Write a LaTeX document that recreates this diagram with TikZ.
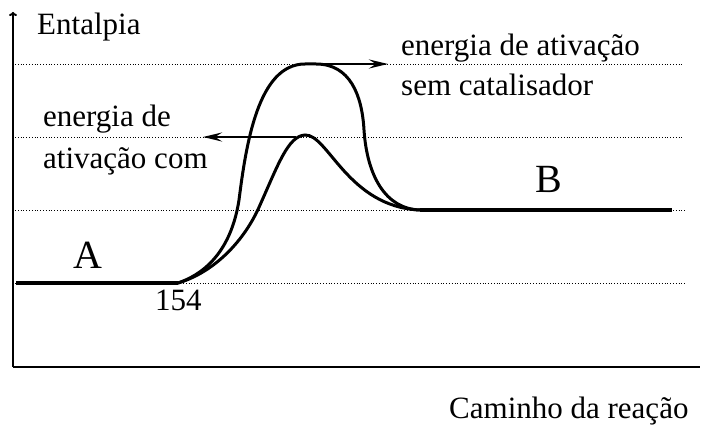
\documentclass[tikz,border=0pt]{standalone}
\usepackage{fontspec}
\setmainfont{Liberation Serif}
\usetikzlibrary{arrows.meta}
\begin{document}
\begin{tikzpicture}[x=1pt,y=-1pt,
  lbl/.style={anchor=base west,inner sep=0pt,font=\fontsize{31}{34}\selectfont},
  big/.style={anchor=base west,inner sep=0pt,font=\fontsize{40}{44}\selectfont},
  guide/.style={dotted,line width=0.8pt},
  curve/.style={line width=3pt},
  level/.style={line width=3.5pt},
  axis/.style={line width=2pt},
  ptr/.style={line width=2.8pt,-{Stealth[length=19pt,width=9pt,inset=7pt]}}]
\useasboundingbox (0,0) rectangle (704,425);
% axes
\coordinate (O) at (13,367);
\coordinate (Ytop) at (13,12);
\coordinate (Xend) at (700,367);
\draw[axis,-{To[length=4pt,width=8pt]}] (O) -- (Ytop);
\draw[axis] (O) -- (Xend);
% guide lines
\coordinate (g1a) at (15,64);  \coordinate (g1b) at (684,64);
\coordinate (g2a) at (15,137); \coordinate (g2b) at (684,137);
\coordinate (g3a) at (15,210); \coordinate (g3b) at (686,210);
\coordinate (g4a) at (15,283); \coordinate (g4b) at (686,283);
\draw[guide] (g1a) -- (g1b);
\draw[guide] (g2a) -- (g2b);
\draw[guide] (g3a) -- (g3b);
\draw[guide] (g4a) -- (g4b);
% levels
\coordinate (A0) at (16,283); \coordinate (A1) at (178,283);
\coordinate (B0) at (420,210); \coordinate (B1) at (672,210);
\draw[level] (A0) -- (A1);
\draw[level] (B0) -- (B1);
% curves
\coordinate (P1) at (305,64);
\coordinate (P2) at (305,135);
\draw[curve,line cap=round] (A1) .. controls (210,272) and (232,245) .. (239,200)
   .. controls (246,145) and (258,64) .. (P1) -- (316,64)
   .. controls (350,64) and (362,95) .. (364,130)
   .. controls (367,175) and (385,209) .. (B0);
\draw[curve,line cap=round] (A1) .. controls (215,272) and (245,240) .. (260,205)
   .. controls (278,165) and (288,136) .. (P2)
   .. controls (328,134) and (348,207) .. (B0);
% arrows
\coordinate (T1) at (388,64);
\coordinate (S2) at (296,137);
\coordinate (T2) at (203,137);
\draw[ptr] (P1) -- (T1);
\draw[ptr] (S2) -- (T2);
% texts
\node[lbl] (ent) at (37,35) {Entalpia};
\node[lbl] (sem1) at (401,56) {energia de ativação};
\node[lbl] (sem2) at (401,96) {sem catalisador};
\node[lbl] (com1) at (43,127) {energia de};
\node[lbl] (com2) at (43,168) {ativação com};
\node[big] (lB) at (535,192) {B};
\node[big] (lA) at (73,268) {A};
\node[lbl] (n154) at (155,310) {154};
\node[lbl] (cam) at (449,418) {Caminho da reação};
\end{tikzpicture}
\end{document}
